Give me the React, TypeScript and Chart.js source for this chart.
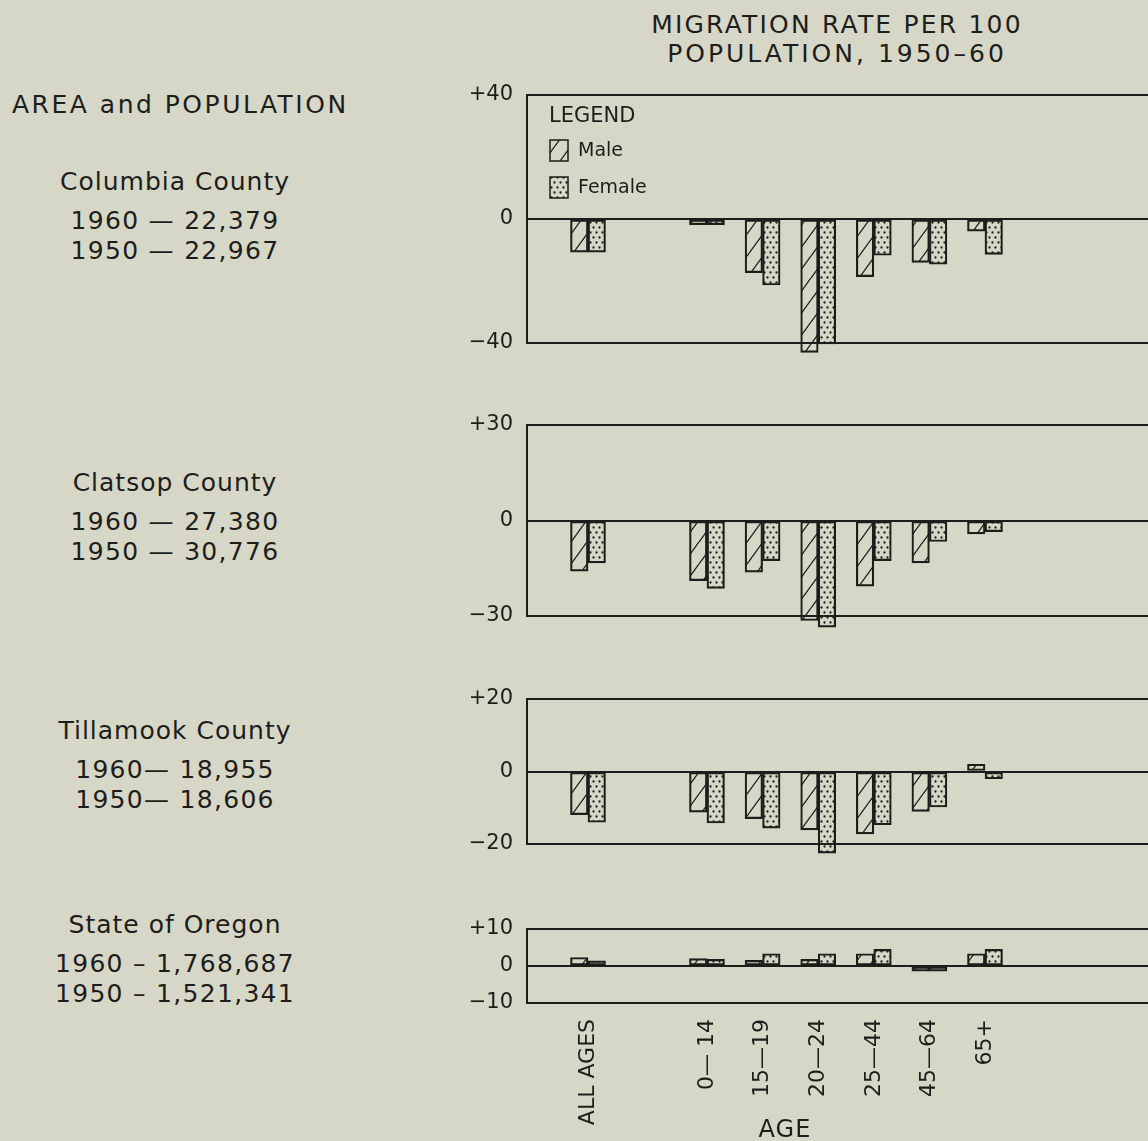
import React, { useEffect, useRef } from "react";
import { Chart, registerables } from "chart.js";

Chart.register(...registerables);

// ---------------- data ----------------
const ageGroups = ["ALL AGES", "0— 14", "15—19", "20—24", "25—44", "45—64", "65+"];
const seriesNames = ["Male", "Female"];

const columbiaMale = [-10.7, -1.8, -17.3, -43.0, -18.6, -14.0, -3.9];
const columbiaFemale = [-10.7, -1.8, -21.3, -40.3, -11.7, -14.6, -11.4];
const clatsopMale = [-15.9, -18.9, -16.2, -31.4, -20.6, -13.3, -4.2];
const clatsopFemale = [-13.3, -21.3, -12.6, -33.5, -12.6, -6.6, -3.5];
const tillamookMale = [-11.9, -11.2, -13.0, -16.1, -17.2, -11.0, 2.0];
const tillamookFemale = [-14.0, -14.2, -15.6, -22.5, -14.7, -9.8, -2.0];
const oregonMale = [2.3, 2.0, 1.5, 1.8, 3.3, -1.4, 3.3];
const oregonFemale = [1.4, 1.8, 3.3, 3.3, 4.5, -1.4, 4.5];

const panelLimits = [40, 30, 20, 10];

const areaNames = ["Columbia County", "Clatsop County", "Tillamook County", "State of Oregon"];
const population1960 = ["1960 — 22,379", "1960 — 27,380", "1960— 18,955", "1960 – 1,768,687"];
const population1950 = ["1950 — 22,967", "1950 — 30,776", "1950— 18,606", "1950 – 1,521,341"];
const titleLines = ["MIGRATION RATE PER 100", "POPULATION, 1950–60"];
const sideHeading = "AREA and POPULATION";
const xAxisTitle = "AGE";
const legendTitle = "LEGEND";

// ---------------- style / layout ----------------
const INK = "#1d1d1b";
const BG = "#d7d7c7";
const FONT = "'DejaVu Sans', sans-serif";

const CANVAS_LEFT = 427;
const CANVAS_W = 760;
const Y_AXIS_W = 100;
const PAD_TOP = 15;
const panelTops = [95, 425, 699, 929];
const panelBottoms = [343, 616, 844, 1003];
const panelBottomSpace = [15, 20, 15, 138];
const AXIS_LABEL_HEIGHT = 138;
const SLOT_GAP = 1.14; // extra space after the "all ages" group
const X_MIN = -1.097;
const X_MAX = 10.773;
const BAR_W = 17.5;

const slotPosition = (i: number) => (i === 0 ? 0 : i + SLOT_GAP);

function makeHatch(): CanvasPattern {
  const c = document.createElement("canvas");
  c.width = 16;
  c.height = 22;
  const g = c.getContext("2d")!;
  g.strokeStyle = INK;
  g.lineWidth = 1.3;
  g.beginPath();
  for (const dx of [-16, 0, 16]) {
    g.moveTo(dx, 22);
    g.lineTo(dx + 16, 0);
  }
  g.stroke();
  return g.createPattern(c, "repeat")!;
}

function makeStipple(): CanvasPattern {
  const c = document.createElement("canvas");
  c.width = 6;
  c.height = 10;
  const g = c.getContext("2d")!;
  g.fillStyle = INK;
  for (const [x, y] of [
    [1.5, 2.5],
    [4.5, 7.5],
  ]) {
    g.beginPath();
    g.arc(x, y, 1.15, 0, Math.PI * 2);
    g.fill();
  }
  return g.createPattern(c, "repeat")!;
}

const boxLegend = {
  id: "boxLegend",
  afterDraw(chart: any) {
    const { ctx, chartArea } = chart;
    const L = chartArea.left;
    const T = chartArea.top;
    ctx.save();
    ctx.fillStyle = INK;
    ctx.textBaseline = "middle";
    ctx.textAlign = "left";
    ctx.font = `21px ${FONT}`;
    ctx.fillText(legendTitle, L + 22, T + 22);
    chart.data.datasets.forEach((ds: any, i: number) => {
      const by = T + 45 + i * 37;
      ctx.fillStyle = ds.backgroundColor;
      ctx.fillRect(L + 23, by, 18, 21);
      ctx.strokeStyle = INK;
      ctx.lineWidth = 1.5;
      ctx.strokeRect(L + 23, by, 18, 21);
      ctx.fillStyle = INK;
      ctx.font = `19px ${FONT}`;
      ctx.fillText(ds.label, L + 51, by + 11);
    });
    ctx.restore();
  },
};

type PanelProps = {
  male: number[];
  female: number[];
  index: number;
  legend?: boolean;
  showLabels?: boolean;
};

function Panel({ male, female, index, legend, showLabels }: PanelProps) {
  const ref = useRef<HTMLCanvasElement>(null);
  const lim = panelLimits[index];
  const top = panelTops[index] - PAD_TOP;
  const height = PAD_TOP + (panelBottoms[index] - panelTops[index]) + panelBottomSpace[index];

  useEffect(() => {
    const canvas = ref.current!;
    const hatch = makeHatch();
    const stipple = makeStipple();
    const common = {
      borderColor: INK,
      borderWidth: 1.5,
      borderSkipped: false as const,
      barThickness: BAR_W,
      clip: false as any,
    };
    const noPad = (s: any) => {
      s.paddingTop = 0;
      s.paddingBottom = 0;
      s.paddingLeft = 0;
      s.paddingRight = 0;
    };
    const chart = new Chart(canvas, {
      type: "bar",
      data: {
        datasets: [
          {
            label: seriesNames[0],
            data: male.map((v, i) => ({ x: slotPosition(i), y: v })),
            backgroundColor: hatch,
            ...common,
          },
          {
            label: seriesNames[1],
            data: female.map((v, i) => ({ x: slotPosition(i), y: v })),
            backgroundColor: stipple,
            ...common,
          },
        ],
      } as any,
      options: {
        responsive: false,
        animation: false,
        events: [],
        layout: {
          padding: {
            top: PAD_TOP,
            left: 0,
            right: 0,
            bottom: showLabels ? 0 : panelBottomSpace[index],
          },
        },
        plugins: {
          legend: { display: false },
          tooltip: { enabled: false },
        },
        scales: {
          x: {
            type: "linear",
            min: X_MIN,
            max: X_MAX,
            offset: false,
            grid: { display: false, offset: false },
            border: { display: false },
            afterBuildTicks: (s: any) => {
              s.ticks = ageGroups.map((_, i) => ({ value: slotPosition(i) }));
            },
            afterFit: (s: any) => {
              s.height = showLabels ? AXIS_LABEL_HEIGHT : 0;
              noPad(s);
            },
            ticks: {
              display: !!showLabels,
              autoSkip: false,
              minRotation: 90,
              maxRotation: 90,
              padding: 8,
              color: INK,
              font: { family: FONT, size: 22 },
              callback: (_v: any, i: number) => ageGroups[i],
            },
          },
          y: {
            type: "linear",
            min: -lim,
            max: lim,
            afterBuildTicks: (s: any) => {
              s.ticks = [-lim, 0, lim].map((value) => ({ value }));
            },
            afterFit: (s: any) => {
              s.width = Y_AXIS_W;
              noPad(s);
            },
            grid: { color: INK, lineWidth: 2, drawTicks: false },
            border: { display: true, color: INK, width: 2 },
            ticks: {
              padding: 14,
              color: INK,
              font: { family: FONT, size: 21 },
              callback: (v: any) => (v > 0 ? `+${v}` : v < 0 ? `−${Math.abs(v)}` : "0"),
            },
          },
        },
      } as any,
      plugins: legend ? [boxLegend] : [],
    });
    return () => chart.destroy();
  }, []);

  return (
    <canvas
      ref={ref}
      width={CANVAS_W}
      height={height}
      style={{ position: "absolute", left: CANVAS_LEFT, top, width: CANVAS_W, height }}
    />
  );
}

function Label({
  text,
  x,
  y,
  size = 25,
  ls = 1,
  center = true,
}: {
  text: string;
  x: number;
  y: number;
  size?: number;
  ls?: number;
  center?: boolean;
}) {
  return (
    <div
      style={{
        position: "absolute",
        left: x,
        top: y,
        transform: center ? "translate(-50%, -50%)" : "translate(0, -50%)",
        fontSize: size,
        lineHeight: 1,
        letterSpacing: ls,
        whiteSpace: "nowrap",
      }}
    >
      {text}
    </div>
  );
}

const blockCenters = [181, 482, 730, 924];

export default function App() {
  return (
    <div
      style={{
        position: "fixed",
        left: 0,
        top: 0,
        width: 1148,
        height: 1141,
        overflow: "hidden",
        background: BG,
        color: INK,
        fontFamily: FONT,
      }}
    >
      <Panel male={columbiaMale} female={columbiaFemale} index={0} legend />
      <Panel male={clatsopMale} female={clatsopFemale} index={1} />
      <Panel male={tillamookMale} female={tillamookFemale} index={2} />
      <Panel male={oregonMale} female={oregonFemale} index={3} showLabels />

      <Label text={titleLines[0]} x={837} y={24} ls={2.2} />
      <Label text={titleLines[1]} x={837} y={53} ls={3} />
      <Label text={sideHeading} x={12} y={104} ls={2.5} center={false} />
      {areaNames.map((name, i) => (
        <React.Fragment key={name}>
          <Label text={name} x={175} y={blockCenters[i]} ls={1} />
          <Label text={population1960[i]} x={175} y={blockCenters[i] + 39} ls={1.3} />
          <Label text={population1950[i]} x={175} y={blockCenters[i] + 69} ls={1.3} />
        </React.Fragment>
      ))}
      <Label text={xAxisTitle} x={785} y={1129} size={24} ls={1} />
    </div>
  );
}
